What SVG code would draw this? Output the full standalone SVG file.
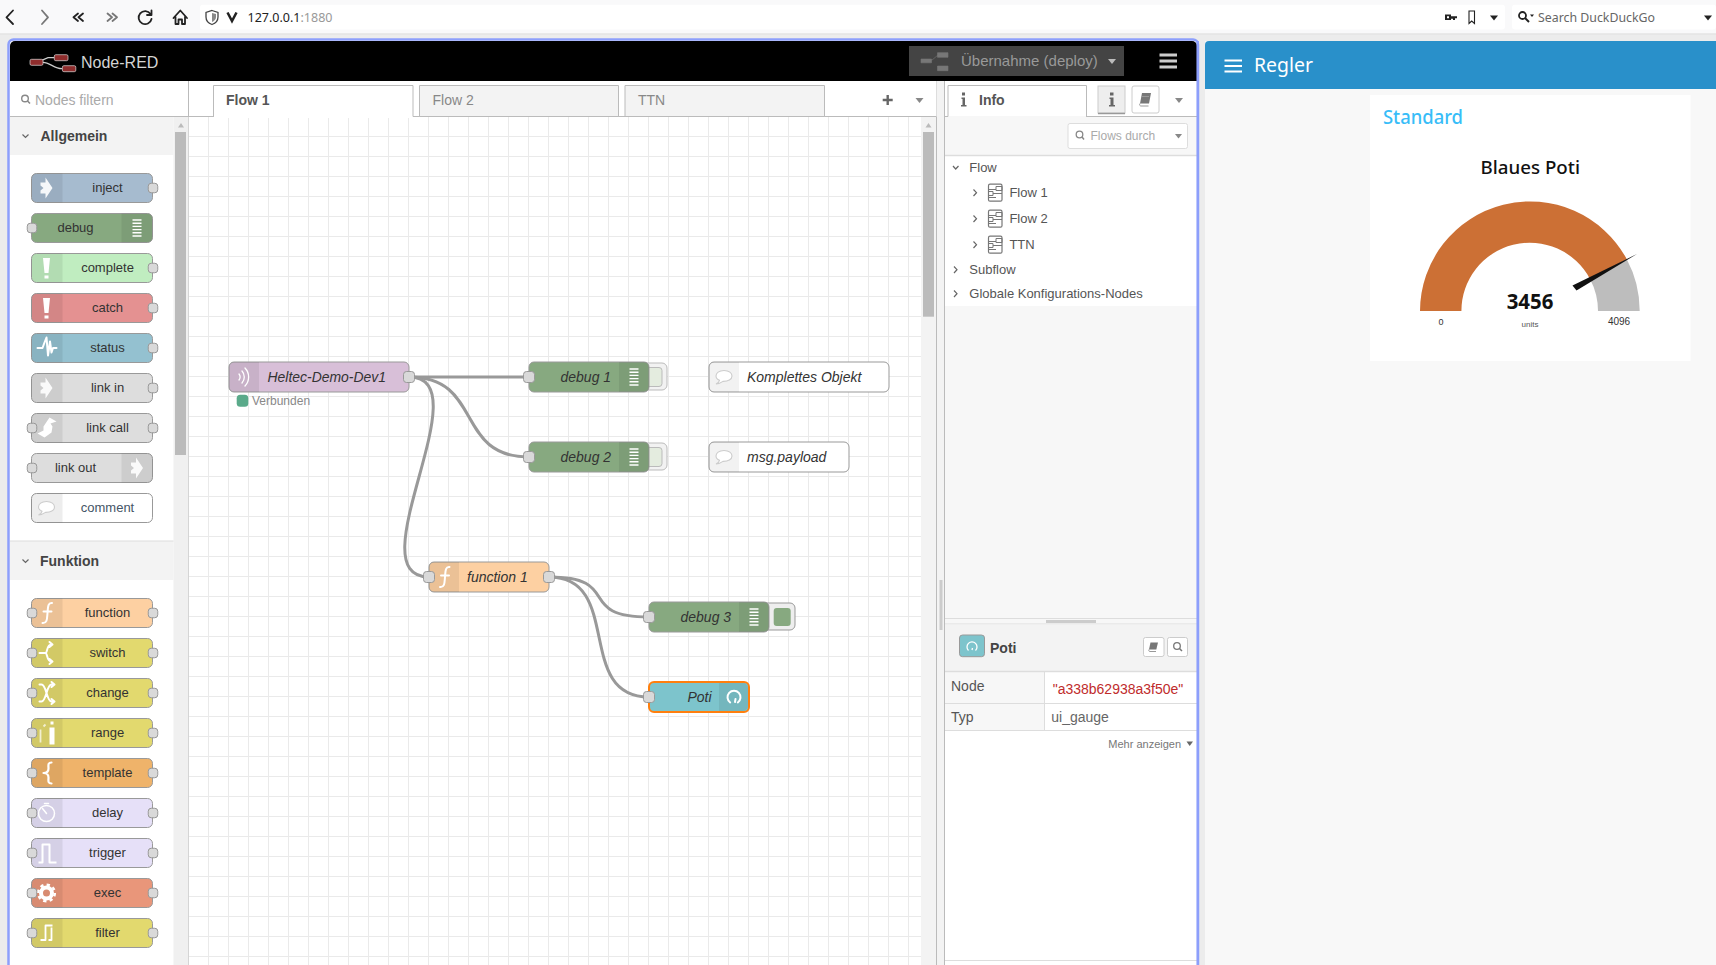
<svg xmlns="http://www.w3.org/2000/svg" width="1716" height="965" viewBox="0 0 1716 965">
<style>
text{font-family:"Liberation Sans",Arial,sans-serif;fill:#333}
.u{font-family:"Noto Sans","Open Sans",sans-serif}
.n{stroke:#999;stroke-width:1}
.ia{fill:#000;fill-opacity:.07}
.dv{stroke:#000;stroke-opacity:.12;stroke-width:1}
.ic{fill:#fff;stroke:none}
.is{fill:none;stroke:#fff;stroke-width:2;stroke-linecap:round;stroke-linejoin:round}
.pt{fill:#d9d9d9;stroke:#999;stroke-width:1}
.pl{font-size:13px;text-anchor:middle}
.fl{font-size:14px;font-style:italic;text-anchor:start}
.w{fill:none;stroke:#999;stroke-width:3}
.tr{font-size:13px;fill:#555}
.ch{fill:none;stroke:#666;stroke-width:1.2}
.bi{fill:none;stroke:#222;stroke-width:1.8;stroke-linecap:round;stroke-linejoin:round}
.bg{fill:none;stroke:#777;stroke-width:1.8;stroke-linecap:round;stroke-linejoin:round}
.tb{fill:#888;stroke:none}
.btn{fill:#fff;stroke:#ccc;stroke-width:1}
.cat{font-size:14px;font-weight:bold;fill:#444}
</style>
<defs>
<pattern id="grid" patternUnits="userSpaceOnUse" x="208" y="136" width="20" height="20">
<path d="M.5 0V20M0 .5H20" fill="none" stroke="#eaeaea" stroke-width="1"/>
</pattern>
<rect id="p" class="pt" x="-4.25" y="-4.75" width="9.5" height="9.5" rx="3"/>
<rect id="pf" class="pt" x="-5.5" y="-5.5" width="11" height="11" rx="3"/>
<path id="ial" class="ia" d="M31 0H5a5 5 0 0 0-5 5V24a5 5 0 0 0 5 5H31z"/>
<path id="iar" class="ia" d="M90 0H116a5 5 0 0 1 5 5V24a5 5 0 0 1-5 5H90z"/>
<path id="i-arrow" class="ic" d="M-1-10.5L6 0-1 10.5V5.5H-6V2.500L-3 0-6-2.500V-5.5H-1z" fill-opacity=".9"/>
<path id="i-debug" class="is" d="M-4.5-8H4.5M-4.500-4.800H4.500M-4.500-1.600H4.500M-4.500 1.600H4.500M-4.500 4.800H4.500M-4.500 8H4.500" style="stroke-width:1.4;stroke-linecap:butt"/>
<path id="i-bang" class="ic" d="M-3.500-10H3.500L2 5H-2zM-2 7.500H2V10.500H-2z"/>
<path id="i-bubble" d="M0-6.500C-5-6.500-8-4-8-1-8 1-6.500 2.500-4.500 3.300-5 5-6.500 6.500-8 7-5 7-2.500 5.500-1 4.400 4 4.500 8 2.500 8-1 8-4 5-6.500 0-6.500z" fill="#fff" stroke="#ccc" stroke-width="1.100"/>
<path id="i-f" class="is" d="M5.500-10C1-10.500 1.500-5 1 0 .5 5 1 10.500-4 10M-3-1.500H5"/>
<path id="i-gauge" class="is" d="M-3.800 5.500A6.500 6.500 0 1 1 3.800 5.500M1 5L1.500 2"/>
<path id="i-wave" class="is" d="M-2-6A9 9 0 0 1-2 6M1-9A13 13 0 0 1 1 9M-5-3A5 5 0 0 1-5 3" style="stroke-width:1.300"/>
</defs>

<rect id="page" width="1716" height="965" fill="#ececec"/>
<g id="browser">
<rect width="1716" height="33.500" fill="#f9f9fa"/>
<rect y="33.500" width="1716" height="1" fill="#e0e0e0"/>
<rect x="200" y="4.700" width="1305" height="24.700" rx="3" fill="#fff"/>
<rect x="1512" y="4.700" width="204" height="24.700" rx="3" fill="#fff"/>
<path class="bi" d="M13 10.500L6.500 17.300 13 24"/>
<path class="bg" d="M42 10.500L48 17.300 42 24"/>
<path class="bi" d="M78 13.500L73.500 17.300 78 21M83 13.500L78.500 17.300 83 21"/>
<path class="bg" d="M107.500 13.500L112 17.300 107.500 21M112.500 13.500L117 17.300 112.500 21"/>
<path class="bi" d="M150.500 14A6.500 6.500 0 1 0 151.500 19M151.500 10.500V15H147"/>
<path class="bi" d="M173.500 18L180.300 10.500 187 18M175.500 17V24H178.500V19.500H182V24H185V17"/>
<path d="M212 10.500L218 12.500V17C218 21 215 23.500 212 24.500 209 23.500 206 21 206 17V12.500z" fill="none" stroke="#444" stroke-width="1.300"/>
<path d="M212 13V22C214 21 216 19.500 216 17V14z" fill="#888"/>
<path d="M227.500 12.500L232 21 236.500 12.500" fill="none" stroke="#222" stroke-width="2.500"/>
<text class="u" x="247.500" y="22" font-size="13" textLength="85" lengthAdjust="spacingAndGlyphs" style="fill:#222">127.0.0.1<tspan style="fill:#999">:1880</tspan></text>
<path d="M1445 14.500H1451V16.300H1457V18.300H1455V20H1453V18.800H1451V20H1445zM1447 16.200V18.200H1449V16.200z" fill="#222" fill-rule="evenodd"/>
<path d="M1469 11H1474.500V23.500L1471.700 21 1469 23.500z" fill="none" stroke="#222" stroke-width="1.100"/>
<path class="tb" d="M1490 15.500H1498L1494 20.500z" style="fill:#222"/>
<circle cx="1522.500" cy="15.500" r="3.500" fill="none" stroke="#222" stroke-width="1.800"/>
<path d="M1525 18L1529 22" stroke="#222" stroke-width="2"/>
<path d="M1530 14.500H1534L1532 17z" fill="#222"/>
<text class="u" x="1538" y="22" font-size="13" textLength="117" lengthAdjust="spacingAndGlyphs" style="fill:#666">Search DuckDuckGo</text>
<path d="M1704 15.500H1712L1708 20.500z" fill="#222"/>
</g>

<g id="node-red-frame">
<rect x="8.500" y="39.500" width="1189.500" height="930" rx="5" fill="#fff" stroke="#8d9ffb" stroke-width="2.500"/>
<path d="M10 81V46a5 5 0 0 1 5-5H1192a5 5 0 0 1 5 5V81z" fill="#000"/>
</g>
<g id="header">
<path d="M37 62.300L48 57.700H54M43 62.300C50 62.300 54 68.700 62 68.700" fill="none" stroke="#ccc" stroke-width="1.300"/>
<rect x="30" y="59.300" width="13" height="6" rx="1.500" fill="#8f2d2d" stroke="#ddd" stroke-width=".7"/>
<rect x="54.300" y="54.700" width="13.700" height="6" rx="1.500" fill="#8f2d2d" stroke="#ddd" stroke-width=".7"/>
<rect x="62.400" y="65.700" width="13.400" height="6" rx="1.500" fill="#8f2d2d" stroke="#ddd" stroke-width=".7"/>
<text x="81" y="68" font-size="16" style="fill:#d4d4d4">Node-RED</text>
<rect x="909" y="46" width="215" height="30" fill="#444"/>
<path d="M921 59H931.500V62.800H921zM937.500 52.700H948V57.300H937.500zM937.500 66H948V70.700H937.500zM931.500 60.500L938 55" fill="#777" stroke="#777" stroke-width=".6"/>
<text x="961" y="66" font-size="15" style="fill:#999">Übernahme (deploy)</text>
<path d="M1108 59H1116L1112 64z" fill="#bbb"/>
<path d="M1159.500 55H1177M1159.500 61H1177M1159.500 67H1177" stroke="#ccc" stroke-width="3"/>
</g>

<g id="workspace">
<rect x="189" y="117" width="732" height="850" fill="#fff"/>
<rect x="189" y="117" width="732" height="850" fill="url(#grid)"/>
<rect x="921" y="117" width="15.500" height="850" fill="#f3f3f3"/>
<rect x="923" y="132" width="11" height="184.700" fill="#bbb"/>
<path d="M925.500 127.500H931.500L928.500 123z" fill="#bbb"/>
<rect x="936.500" y="81" width="8" height="890" fill="#f3f3f3"/>
<path d="M936.500 81V967" stroke="#bbb"/>
<rect x="939.500" y="580" width="3" height="50" fill="#ccc"/>
</g>

<g id="tabs">
<rect x="189" y="81" width="747.500" height="36" fill="#fff"/>
<path d="M189 116.500H936.500" stroke="#bbb"/>
<path d="M213.500 117V85.500H413V117" fill="#fff" stroke="#bbb"/>
<rect x="214" y="116" width="198.500" height="2" fill="#fff"/>
<text x="226" y="105" font-size="14" font-weight="bold" style="fill:#555">Flow 1</text>
<path d="M419.500 116.500V85.500H618.500V116.500z" fill="#f3f3f3" stroke="#bbb"/>
<text x="432.500" y="105" font-size="14" style="fill:#888">Flow 2</text>
<path d="M625 116.500V85.500H824.500V116.500z" fill="#f3f3f3" stroke="#bbb"/>
<text x="638" y="105" font-size="14" style="fill:#888">TTN</text>
<path d="M887.700 95V105M882.700 100H892.700" stroke="#666" stroke-width="2.400"/>
<path class="tb" d="M915.500 98H923.500L919.500 103z"/>
</g>

<g id="palette">
<rect x="10" y="81" width="178.500" height="886" fill="#fff"/>
<path d="M188.500 81V967" stroke="#bbb"/>
<path d="M10 116.500H188.500" stroke="#bbb"/>
<circle cx="25" cy="98.500" r="3.300" fill="none" stroke="#888" stroke-width="1.400"/>
<path d="M27.500 101L30 103.500" stroke="#888" stroke-width="1.600"/>
<text x="35" y="105" font-size="14" style="fill:#aaa">Nodes filtern</text>
<rect x="173.500" y="117" width="15" height="850" fill="#f0f0f0"/>
<rect x="175" y="132" width="11" height="323" fill="#bbb"/>
<path d="M178 127.500H184L181 123z" fill="#bbb"/>
<rect x="10" y="117" width="163.500" height="38" fill="#f3f3f3"/>
<path class="ch" d="M22.500 134.500L25.500 137.500 28.500 134.500"/>
<text class="cat" x="40.500" y="141">Allgemein</text>
<rect x="10" y="541" width="163.500" height="39" fill="#f3f3f3"/>
<path d="M10 541H173.500" stroke="#ddd"/>
<path class="ch" d="M22.500 559.500L25.500 562.500 28.500 559.500"/>
<text class="cat" x="40" y="566">Funktion</text>

<g id="pal-inject" transform="translate(31.500,173.500)"><rect class="n" width="121" height="29" rx="5" fill="#a6bbcf"/><use href="#ial"/><use href="#i-arrow" x="15" y="14.500"/><text class="pl" x="76" y="18.200">inject</text><use href="#p" x="121" y="14.500"/></g>
<g id="pal-debug" transform="translate(31.500,213.500)"><rect class="n" width="121" height="29" rx="5" fill="#87a980"/><use href="#iar"/><use href="#i-debug" x="105.500" y="14.500"/><text class="pl" x="44" y="18.200">debug</text><use href="#p" x="0" y="14.500"/></g>
<g id="pal-complete" transform="translate(31.500,253.500)"><rect class="n" width="121" height="29" rx="5" fill="#c0edc0"/><use href="#ial"/><use href="#i-bang" x="15" y="14.500"/><text class="pl" x="76" y="18.200">complete</text><use href="#p" x="121" y="14.500"/></g>
<g id="pal-catch" transform="translate(31.500,293.500)"><rect class="n" width="121" height="29" rx="5" fill="#e49191"/><use href="#ial"/><use href="#i-bang" x="15" y="14.500"/><text class="pl" x="76" y="18.200">catch</text><use href="#p" x="121" y="14.500"/></g>
<g id="pal-status" transform="translate(31.500,333.500)"><rect class="n" width="121" height="29" rx="5" fill="#94c1d0"/><use href="#ial"/><path class="is" d="M6 14.500H11L13 9 15 4 16.500 22 18.500 8 20 19 21.500 14.500H25" style="stroke-width:2"/><text class="pl" x="76" y="18.200">status</text><use href="#p" x="121" y="14.500"/></g>
<g id="pal-link-in" transform="translate(31.500,373.500)"><rect class="n" width="121" height="29" rx="5" fill="#ddd"/><use href="#ial"/><use href="#i-arrow" x="15" y="14.500"/><text class="pl" x="76" y="18.200">link in</text><use href="#p" x="121" y="14.500"/></g>
<g id="pal-link-call" transform="translate(31.500,413.500)"><rect class="n" width="121" height="29" rx="5" fill="#ddd"/><use href="#ial"/><path class="ic" d="M12 13L18 4 25 8 19 10 21 13 20 19 13 24 6 20 12 17z"/><text class="pl" x="76" y="18.200">link call</text><use href="#p" x="0" y="14.500"/><use href="#p" x="121" y="14.500"/></g>
<g id="pal-link-out" transform="translate(31.500,453.500)"><rect class="n" width="121" height="29" rx="5" fill="#ddd"/><use href="#iar"/><use href="#i-arrow" x="105.500" y="14.500"/><text class="pl" x="44" y="18.200">link out</text><use href="#p" x="0" y="14.500"/></g>
<g id="pal-comment" transform="translate(31.500,493.500)"><rect class="n" width="121" height="29" rx="5" fill="#fff"/><use href="#ial" style="fill-opacity:.05"/><use href="#i-bubble" x="15" y="14.500"/><text class="pl" x="76" y="18.200" style="fill:#456">comment</text></g>

<g id="pal-function" transform="translate(31.500,598.500)"><rect class="n" width="121" height="29" rx="5" fill="#fdd0a2"/><use href="#ial"/><use href="#i-f" x="15" y="14.500"/><text class="pl" x="76" y="18.200">function</text><use href="#p" x="0" y="14.500"/><use href="#p" x="121" y="14.500"/></g>
<g id="pal-switch" transform="translate(31.500,638.500)"><rect class="n" width="121" height="29" rx="5" fill="#e2d96e"/><use href="#ial"/><path class="is" d="M8 14.500H14M20 6C15 6 16 14.500 14 14.500 16 14.500 15 23 20 23M18 3.500L21 6 18 8.500M18 20.500L21 23 18 25.500"/><text class="pl" x="76" y="18.200">switch</text><use href="#p" x="0" y="14.500"/><use href="#p" x="121" y="14.500"/></g>
<g id="pal-change" transform="translate(31.500,678.500)"><rect class="n" width="121" height="29" rx="5" fill="#e2d96e"/><use href="#ial"/><path class="is" d="M8 6H10C15 6 15 23 20 23H22M8 23H10C15 23 15 6 20 6H22M20 3.500L23 6 20 8.500M20 20.500L23 23 20 25.500"/><text class="pl" x="76" y="18.200">change</text><use href="#p" x="0" y="14.500"/><use href="#p" x="121" y="14.500"/></g>
<g id="pal-range" transform="translate(31.500,718.500)"><rect class="n" width="121" height="29" rx="5" fill="#e2d96e"/><use href="#ial"/><path d="M18 9H23V26H18zM19 3H22V6H19z" class="ic"/><path d="M9 11V24M12 8L14 6" stroke="#fff" stroke-opacity=".7" stroke-width="1.800"/><text class="pl" x="76" y="18.200">range</text><use href="#p" x="0" y="14.500"/><use href="#p" x="121" y="14.500"/></g>
<g id="pal-template" transform="translate(31.500,758.500)"><rect class="n" width="121" height="29" rx="5" fill="#efb36a"/><use href="#ial"/><path class="is" d="M20 4C16 4 17 7 17 10 17 13 15 14.500 12 14.500 15 14.500 17 16 17 19 17 22 16 25 20 25" style="stroke-width:2.200"/><text class="pl" x="76" y="18.200">template</text><use href="#p" x="0" y="14.500"/><use href="#p" x="121" y="14.500"/></g>
<g id="pal-delay" transform="translate(31.500,798.500)"><rect class="n" width="121" height="29" rx="5" fill="#e6e0f8"/><use href="#ial"/><circle class="is" cx="15" cy="15" r="8" style="stroke-width:1.500"/><path class="is" d="M15 15L11 10M13 5H17" style="stroke-width:1.500"/><text class="pl" x="76" y="18.200">delay</text><use href="#p" x="0" y="14.500"/><use href="#p" x="121" y="14.500"/></g>
<g id="pal-trigger" transform="translate(31.500,838.500)"><rect class="n" width="121" height="29" rx="5" fill="#e6e0f8"/><use href="#ial"/><path class="is" d="M7 24H11V6H18V24H25" style="stroke-width:2;stroke-linecap:butt"/><text class="pl" x="76" y="18.200">trigger</text><use href="#p" x="0" y="14.500"/><use href="#p" x="121" y="14.500"/></g>
<g id="pal-exec" transform="translate(31.500,878.500)"><rect class="n" width="121" height="29" rx="5" fill="#e9967a"/><use href="#ial"/><circle cx="15" cy="14.500" r="5.500" fill="none" stroke="#fff" stroke-width="4"/><circle cx="15" cy="14.500" r="8.300" fill="none" stroke="#fff" stroke-width="2.500" stroke-dasharray="3.300 3.200"/><text class="pl" x="76" y="18.200">exec</text><use href="#p" x="0" y="14.500"/><use href="#p" x="121" y="14.500"/></g>
<g id="pal-filter" transform="translate(31.500,918.500)"><rect class="n" width="121" height="29" rx="5" fill="#e2d96e"/><use href="#ial"/><path class="is" d="M9 21.500H14V7H21M17 21.500H20V9" style="stroke-width:1.800;stroke-linecap:butt"/><text class="pl" x="76" y="18.200">filter</text><use href="#p" x="0" y="14.500"/><use href="#p" x="121" y="14.500"/></g>
</g>

<g id="connectors">
<path class="w" d="M409 377H529"/>
<path class="w" d="M409 377C484 377 454 457 529 457"/>
<path class="w" d="M409 377C484 377 354 577 429 577"/>
<path class="w" d="M549 577C624 577 574 617 649 617"/>
<path class="w" d="M549 577C624 577 574 697 649 697"/>
</g>

<g id="node-heltec" transform="translate(229,362)"><rect class="n" width="180" height="30" rx="5" fill="#d8bfd8"/><path class="ia" d="M30 0H5a5 5 0 0 0-5 5V25a5 5 0 0 0 5 5H30z"/><use href="#i-wave" x="15" y="15"/><text class="fl" x="38.500" y="20" font-size="14" textLength="118.500" lengthAdjust="spacingAndGlyphs">Heltec-Demo-Dev1</text><use href="#pf" x="180" y="15"/></g>
<g id="node-heltec-status"><rect x="236.700" y="394.700" width="11.600" height="12" rx="3.500" fill="#5aaa8a"/><text x="252" y="405" font-size="12" style="fill:#888">Verbunden</text></g>

<g id="node-debug1"><rect x="640" y="363" width="27" height="27" rx="5" fill="#f2f2f2" stroke="#bbb"/><rect x="645" y="367.500" width="17" height="19" rx="3" fill="#e4ecdf" stroke="#bbb"/>
<g transform="translate(529,362)"><rect class="n" width="120" height="30" rx="5" fill="#87a980"/><path class="ia" d="M90 0H115a5 5 0 0 1 5 5V25a5 5 0 0 1-5 5H90z"/><use href="#i-debug" x="105" y="15"/><text class="fl" x="31.500" y="20">debug 1</text><use href="#pf" x="0" y="15"/></g></g>
<g id="node-debug2"><rect x="640" y="443" width="27" height="27" rx="5" fill="#f2f2f2" stroke="#bbb"/><rect x="645" y="447.500" width="17" height="19" rx="3" fill="#e4ecdf" stroke="#bbb"/>
<g transform="translate(529,442)"><rect class="n" width="120" height="30" rx="5" fill="#87a980"/><path class="ia" d="M90 0H115a5 5 0 0 1 5 5V25a5 5 0 0 1-5 5H90z"/><use href="#i-debug" x="105" y="15"/><text class="fl" x="31.500" y="20">debug 2</text><use href="#pf" x="0" y="15"/></g></g>
<g id="node-komplettes" transform="translate(709,362)"><rect class="n" width="180" height="30" rx="5" fill="#fff"/><path class="ia" style="fill-opacity:.05" d="M30 0H5a5 5 0 0 0-5 5V25a5 5 0 0 0 5 5H30z"/><use href="#i-bubble" x="15" y="15"/><text class="fl" x="38" y="20">Komplettes Objekt</text></g>
<g id="node-payload" transform="translate(709,442)"><rect class="n" width="140" height="30" rx="5" fill="#fff"/><path class="ia" style="fill-opacity:.05" d="M30 0H5a5 5 0 0 0-5 5V25a5 5 0 0 0 5 5H30z"/><use href="#i-bubble" x="15" y="15"/><text class="fl" x="38" y="20">msg.payload</text></g>
<g id="node-function1" transform="translate(429,562)"><rect class="n" width="120" height="30" rx="5" fill="#fdd0a2"/><path class="ia" d="M30 0H5a5 5 0 0 0-5 5V25a5 5 0 0 0 5 5H30z"/><use href="#i-f" x="15" y="15"/><text class="fl" x="38" y="20">function 1</text><use href="#pf" x="0" y="15"/><use href="#pf" x="120" y="15"/></g>
<g id="node-debug3"><rect x="760" y="603" width="35" height="27" rx="5" fill="#eee" stroke="#999"/><rect x="773.700" y="608" width="17" height="18" rx="3" fill="#87a980"/>
<g transform="translate(649,602)"><rect class="n" width="120" height="30" rx="5" fill="#87a980"/><path class="ia" d="M90 0H115a5 5 0 0 1 5 5V25a5 5 0 0 1-5 5H90z"/><use href="#i-debug" x="105" y="15"/><text class="fl" x="31.500" y="20">debug 3</text><use href="#pf" x="0" y="15"/></g></g>
<g id="node-poti" transform="translate(649,682)"><rect width="100" height="30" rx="5" fill="#7dc4cc" stroke="#ff7f0e" stroke-width="2"/><path class="ia" d="M70 1H94a5 5 0 0 1 5 5V24a5 5 0 0 1-5 5H70z"/><use href="#i-gauge" x="85" y="15" style="stroke-width:2"/><text class="fl" x="38.500" y="20">Poti</text><use href="#pf" x="0" y="15"/></g>

<g id="sidebar">
<rect x="945" y="81" width="252" height="886" fill="#f7f7f7"/>
<path d="M944.500 81V967" stroke="#bbb"/>
<rect x="945" y="81" width="252" height="36" fill="#fff"/>
<path d="M945 116.500H1197" stroke="#bbb"/>
<path d="M948 117V85.500H1086.500V117" fill="#fff" stroke="#bbb"/>
<rect x="948.500" y="116" width="137.500" height="2" fill="#f7f7f7"/>
<path d="M962 92.500H965V95.500H962zM961.500 97.500H965V105H966.500V106.500H961V105H962.500V99H961.500z" fill="#666"/>
<text x="979" y="105" font-size="14" font-weight="bold" style="fill:#555">Info</text>
<rect x="1098" y="86" width="27" height="27" fill="#eee" stroke="#ccc"/>
<path d="M1098 113.500H1125" stroke="#999" stroke-width="1.500"/>
<path d="M1110 92.500H1113.500V95.500H1110zM1109.500 97.500H1113.500V105H1115V106.500H1109V105H1110.500V99H1109.500z" fill="#666"/>
<rect class="btn" x="1132" y="86" width="27" height="27" rx="2"/>
<path d="M1142 93H1151L1149 103.500H1140z" fill="#777"/>
<path d="M1140 103.500C1139 105 1140 106 1141 106H1148.500M1142 96.500H1149" fill="none" stroke="#999" stroke-width="1"/>
<path class="tb" d="M1175 98H1183L1179 103z"/>
<rect x="1068" y="123.500" width="119.500" height="25" rx="2" fill="#fff" stroke="#ddd"/>
<circle cx="1079.500" cy="134.500" r="3.300" fill="none" stroke="#888" stroke-width="1.300"/>
<path d="M1082 137L1084 139.500" stroke="#888" stroke-width="1.500"/>
<text x="1090.500" y="140" font-size="12" style="fill:#aaa">Flows durch</text>
<path class="tb" d="M1175 134H1182L1178.500 138.500z"/>
<rect x="945" y="156" width="252" height="150" fill="#fff"/>
<path d="M945 155.500H1197" stroke="#ddd" stroke-width="1.500"/>
<g id="outline">
<path class="ch" d="M953 166L955.700 169 958.500 166"/><text class="tr" x="969.300" y="172">Flow</text>
<path class="ch" d="M973.500 189.500L976.500 192.700 973.500 196"/>
<g id="ic-flow"><rect x="988.500" y="184.200" width="13.500" height="17" rx="1.500" fill="#fff" stroke="#777" stroke-width="1.200"/><path d="M988.500 189.500H996M996 186.500H1002V190.500H996zM988.500 191.500H993V195.500H988.500zM993 193.500H1002M988.500 197.500H996" fill="none" stroke="#777" stroke-width="1"/></g>
<text class="tr" x="1009.400" y="196.500">Flow 1</text>
<path class="ch" d="M973.500 215.500L976.500 218.700 973.500 222"/>
<use href="#ic-flow" y="26"/>
<text class="tr" x="1009.400" y="222.500">Flow 2</text>
<path class="ch" d="M973.500 241.500L976.500 244.700 973.500 248"/>
<use href="#ic-flow" y="52"/>
<text class="tr" x="1009.400" y="248.500">TTN</text>
<path class="ch" d="M954 266.500L957 269.700 954 273"/><text class="tr" x="969.300" y="273.500">Subflow</text>
<path class="ch" d="M954 290.500L957 293.700 954 297"/><text class="tr" x="969.300" y="297.500">Globale Konfigurations-Nodes</text>
</g>
<path d="M945 618.500H1197" stroke="#ddd"/>
<rect x="1046" y="620" width="50" height="3" fill="#ccc"/>
<path d="M945 624H1197" stroke="#ddd"/>
<rect x="945" y="624.500" width="252" height="47" fill="#f3f3f3"/>
<rect x="959.500" y="635" width="25" height="21.700" rx="3" fill="#7dc4cc" stroke="#999"/>
<path d="M968.500 650.500A5 5 0 1 1 975.500 650.500M972 650L972.500 648" fill="none" stroke="#fff" stroke-width="1.300"/>
<text x="990" y="652.500" font-size="14" font-weight="bold" style="fill:#444">Poti</text>
<rect class="btn" x="1143.500" y="637.500" width="20.500" height="19" rx="2"/>
<path d="M1150.500 642.500H1158L1156.300 649.500H1149z" fill="#777"/>
<path d="M1149 649.500C1148.500 651 1149 651.500 1150 651.500H1156" fill="none" stroke="#999"/>
<rect class="btn" x="1167.500" y="637.500" width="20" height="19" rx="2"/>
<circle cx="1177" cy="646" r="3.300" fill="none" stroke="#777" stroke-width="1.300"/>
<path d="M1179.500 648.500L1182 651" stroke="#777" stroke-width="1.500"/>
<rect x="945" y="671.500" width="252" height="294" fill="#fff"/>
<rect x="945" y="672" width="100" height="58" fill="#f7f7f7"/>
<path d="M945 671.500H1197" stroke="#ddd" stroke-width="1.500"/>
<path d="M945 703.500H1197M945 730.500H1197M1044.500 672V730" stroke="#ddd"/>
<text x="951" y="691" font-size="14" style="fill:#555">Node</text>
<text x="1052.700" y="693.500" font-size="14" style="fill:#c02c2c">"a338b62938a3f50e"</text>
<text x="951" y="722" font-size="14" style="fill:#555">Typ</text>
<text x="1051.300" y="722" font-size="14" style="fill:#666">ui_gauge</text>
<text x="1108.300" y="747.500" font-size="11" style="fill:#777">Mehr anzeigen</text>
<path d="M1186.500 741.500H1193L1189.700 746z" fill="#666"/>
<path d="M945 960.500H1197" stroke="#ddd"/>
<path d="M1197.700 41V967" stroke="#8d9ffb" stroke-width="2.500"/>
</g>

<g id="dashboard">
<rect x="1205" y="41" width="511" height="924" fill="#f8f8f8"/>
<path d="M1205 89V45a4 4 0 0 1 4-4H1716V89z" fill="#2990ca"/>
<path d="M1224.500 60.500H1242M1224.500 66H1242M1224.500 71.500H1242" stroke="#fff" stroke-width="2"/>
<text class="u" x="1254" y="72" font-size="20" textLength="59" lengthAdjust="spacingAndGlyphs" style="fill:#fff">Regler</text>
<rect x="1370" y="95" width="320.500" height="266" fill="#fff"/>
<text class="u" x="1383" y="124" font-size="19" textLength="80" lengthAdjust="spacingAndGlyphs" style="fill:#38bdf8;font-weight:500">Standard</text>
<text class="u" x="1480.500" y="174" font-size="18" textLength="99.500" lengthAdjust="spacingAndGlyphs" style="fill:#111;font-weight:500">Blaues Poti</text>
<path d="M1420 311A110 110 0 0 1 1626.800 259.200L1590 278.900A68.300 68.300 0 0 0 1461.400 311z" fill="#cc7035"/>
<path d="M1626.800 259.200A110 110 0 0 1 1639.700 311H1598A68.300 68.300 0 0 0 1590 278.900z" fill="#bdbdbd"/>
<path d="M1572.500 285.500L1576.500 290.500 1637 254z" fill="#111"/>
<text class="u" x="1506.700" y="309" font-size="21" font-weight="bold" textLength="46.700" lengthAdjust="spacingAndGlyphs" style="fill:#111">3456</text>
<text x="1441" y="325" font-size="9" text-anchor="middle">0</text>
<text x="1530" y="327" font-size="8" text-anchor="middle" style="fill:#555">units</text>
<text x="1619" y="325" font-size="10" text-anchor="middle">4096</text>
</g>
</svg>
